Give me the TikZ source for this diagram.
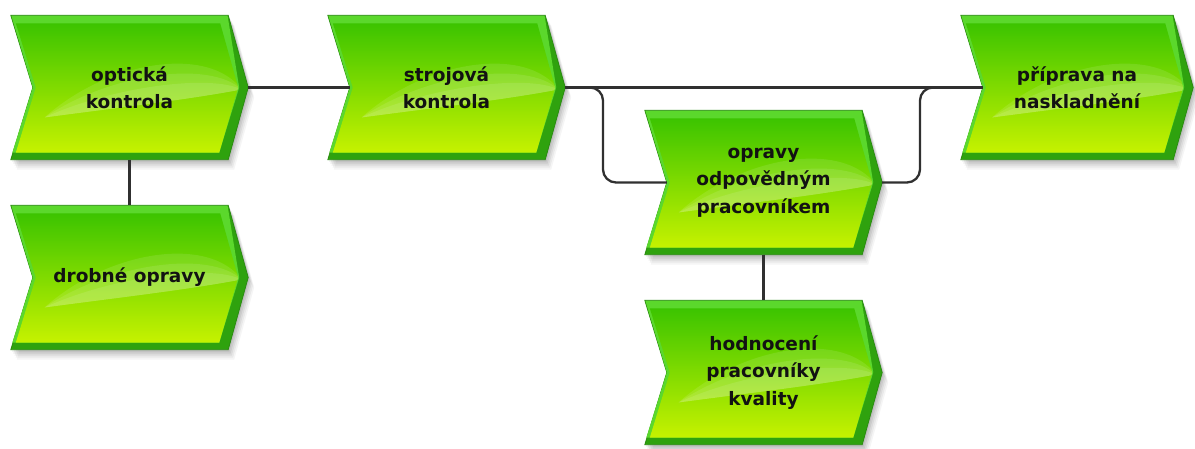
\documentclass[tikz,border=0pt]{standalone}
\usepackage{fontspec}
\setmainfont{DejaVu Sans}
\usetikzlibrary{calc,backgrounds}

\definecolor{epcdark}{HTML}{2FA20E}
\definecolor{epcedge}{HTML}{2A8C10}
\definecolor{epclight}{HTML}{5BD82C}
\definecolor{epctop}{HTML}{3CC400}
\definecolor{epcmid}{HTML}{86DE00}
\definecolor{epcbot}{HTML}{C6F200}
\definecolor{linec}{HTML}{303030}
\definecolor{textc}{HTML}{121212}

\tikzset{
  funcnode/.style={minimum width=237pt, minimum height=144pt, inner sep=0pt,
    align=center, text=textc, font=\bfseries\fontsize{18.5}{27.5}\selectfont},
  conn/.style={draw=linec, line width=2.3pt},
}

% inner (gradient) face of a function box
\newcommand\funcinner[1]{%
  ($(#1.north west)+(5,-8)$) -- ($(#1.north east)+(-28,-8)$) --
  ($(#1.east)+(-10,0)$) -- ($(#1.south east)+(-29,7)$) --
  ($(#1.south west)+(5,7)$) -- ($(#1.west)+(25,0)$) -- cycle}

% chevron-shaped function box drawn behind the text node #1
\newcommand\funcshape[1]{%
  \begin{scope}[on background layer]
    \foreach \s/\o in {10/0.04,8/0.05,6/0.06,4/0.07,2/0.07}{
      \fill[black, opacity=\o]
        ($(#1.north west)+(\s*0.6,-\s)$) -- ($(#1.north east)+(-20+\s*0.6,-\s)$) --
        ($(#1.east)+(\s*0.6,-\s)$) -- ($(#1.south east)+(-20+\s*0.6,-\s)$) --
        ($(#1.south west)+(\s*0.6,-\s)$) -- ($(#1.west)+(22+\s*0.6,-\s)$) -- cycle;
    }
    \fill[epcdark, draw=epcedge, line width=0.8pt]
      (#1.north west) -- ($(#1.north east)+(-20,0)$) -- (#1.east) --
      ($(#1.south east)+(-20,0)$) -- (#1.south west) -- ($(#1.west)+(22,0)$) -- cycle;
    \fill[epclight]
      ($(#1.north west)+(0.6,-0.6)$) -- ($(#1.north east)+(-20.6,-0.6)$) --
      ($(#1.east)+(-9,0)$) -- ($(#1.south east)+(-29,7)$) --
      ($(#1.south west)+(1.5,7)$) -- ($(#1.west)+(22,0)$) -- cycle;
    \shade[top color=epctop, middle color=epcmid, bottom color=epcbot] \funcinner{#1};
    \begin{scope}
      \clip \funcinner{#1};
      \foreach \k in {14,28,42}{
        \fill[white, opacity=0.1]
          ($(#1.center)+(-85,-30)$) .. controls ($(#1.center)+(-10,-20)$) and ($(#1.center)+(60,-12)$) ..
          ($(#1.center)+(112,-2)$) .. controls ($(#1.center)+(80,\k)$) and ($(#1.center)+(-20,\k-14)$) ..
          ($(#1.center)+(-85,-30)$) -- cycle;
      }
    \end{scope}
  \end{scope}}

\begin{document}
\begin{tikzpicture}[x=1pt, y=1pt]
  \useasboundingbox (0,0) rectangle (1195,448);

  \node[funcnode] (opt)   at (129.5,360.5) {optická\\kontrola};
  \node[funcnode] (drob)  at (129.5,170.5) {drobné opravy};
  \node[funcnode] (stroj) at (446.5,360.5) {strojová\\kontrola};
  \node[funcnode] (opr)   at (763.5,265.5) {opravy\\odpovědným\\pracovníkem};
  \node[funcnode] (hod)   at (763.5,75.5)  {hodnocení\\pracovníky\\kvality};
  \node[funcnode, minimum width=232pt] (prip) at (1077,360.5) {příprava na\\naskladnění};

  \foreach \n in {opt,drob,stroj,opr,hod,prip}{\funcshape{\n}}

  \coordinate (forkL) at (603,313);
  \coordinate (forkR) at (920,313);

  \draw[conn] (opt.east) -- ($(stroj.west)+(22,0)$);
  \draw[conn] (stroj.east) -- ($(prip.west)+(22,0)$);
  \draw[conn, rounded corners=13pt] (stroj.east) -| (forkL) |- ($(opr.west)+(22,0)$);
  \draw[conn, rounded corners=13pt] (opr.east) -| (forkR) |- ($(prip.west)+(22,0)$);
  \draw[conn] (opt.south) -- (drob.north);
  \draw[conn] (opr.south) -- (hod.north);
\end{tikzpicture}
\end{document}
